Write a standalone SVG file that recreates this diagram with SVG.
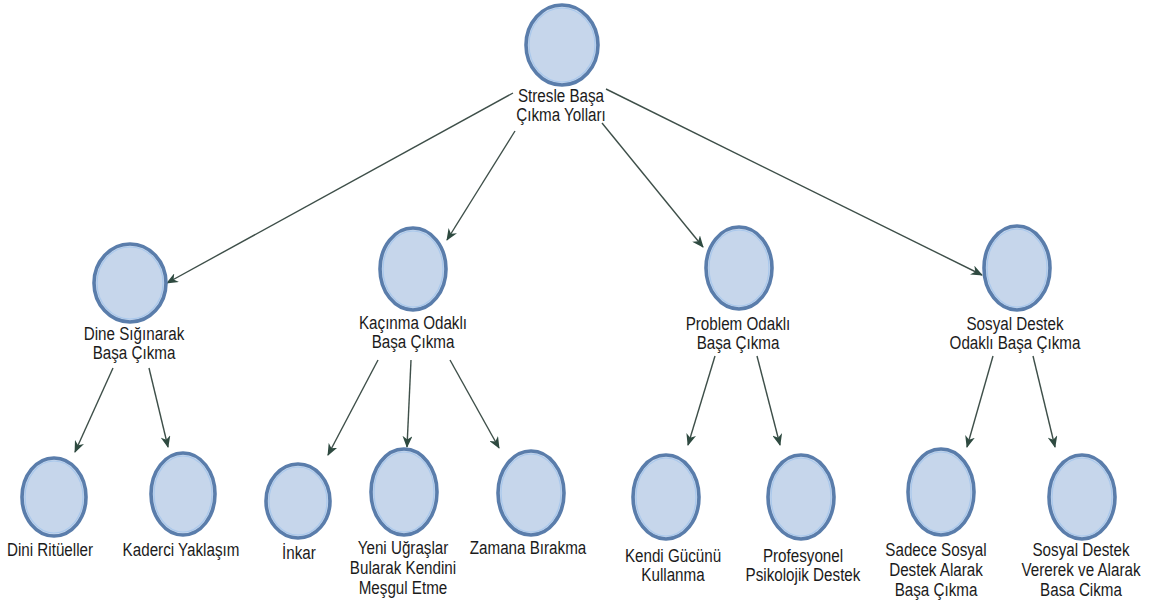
<svg xmlns="http://www.w3.org/2000/svg" width="1152" height="611" viewBox="0 0 1152 611">
  <style>
    .node-outer { fill: #c6d6eb; stroke: #5a7dab; stroke-width: 3.6; }
    .node-inner { fill: none; stroke: #a9c8ec; stroke-width: 1.2; }
    .label { font-family: "Liberation Sans", Arial, sans-serif; font-size: 19px; fill: #1b1b1b; text-anchor: middle; }
    .edge { stroke: #3e4f49; stroke-width: 1.4; fill: none; marker-end: url(#arrow); }
  </style>
  <defs>
    <marker id="arrow" viewBox="0 0 12 10" refX="11" refY="5" markerWidth="12" markerHeight="10" markerUnits="userSpaceOnUse" orient="auto">
      <path d="M0,0 L12,5 L0,10 L3.5,5 z" fill="#2e4a40"/>
    </marker>
  </defs>
  <rect width="1152" height="611" fill="#ffffff"/>

  <!-- connectors -->
  <g id="connectors">
    <line class="edge" x1="513" y1="93" x2="167" y2="283"/>
    <line class="edge" x1="515" y1="131" x2="447" y2="240"/>
    <line class="edge" x1="602" y1="123" x2="703" y2="247"/>
    <line class="edge" x1="606" y1="89" x2="982" y2="275"/>

    <line class="edge" x1="113" y1="368" x2="75" y2="452"/>
    <line class="edge" x1="149" y1="368" x2="168" y2="447"/>

    <line class="edge" x1="378" y1="360" x2="328" y2="455"/>
    <line class="edge" x1="411" y1="360" x2="407" y2="447"/>
    <line class="edge" x1="450" y1="360" x2="499" y2="448"/>

    <line class="edge" x1="715" y1="356" x2="688" y2="445"/>
    <line class="edge" x1="757" y1="356" x2="780" y2="445"/>

    <line class="edge" x1="993" y1="356" x2="967" y2="447"/>
    <line class="edge" x1="1033" y1="356" x2="1055" y2="447"/>
  </g>

  <!-- root -->
  <g id="node-root">
    <ellipse class="node-outer" cx="562" cy="45" rx="36" ry="40"/>
    <ellipse class="node-inner" cx="562" cy="45" rx="33" ry="37"/>
    <text class="label" transform="translate(561 101.5) scale(0.8 1)"><tspan x="0">Stresle Başa</tspan><tspan x="0" dy="20">Çıkma Yolları</tspan></text>
  </g>

  <!-- second level -->
  <g id="node-dine">
    <ellipse class="node-outer" cx="130" cy="283" rx="36" ry="39"/>
    <ellipse class="node-inner" cx="130" cy="283" rx="33" ry="36"/>
    <text class="label" transform="translate(134 339.5) scale(0.8 1)"><tspan x="0">Dine Sığınarak</tspan><tspan x="0" dy="20">Başa Çıkma</tspan></text>
  </g>
  <g id="node-kacinma">
    <ellipse class="node-outer" cx="413" cy="269" rx="33" ry="41"/>
    <ellipse class="node-inner" cx="413" cy="269" rx="30" ry="38"/>
    <text class="label" transform="translate(413 328.5) scale(0.8 1)"><tspan x="0">Kaçınma Odaklı</tspan><tspan x="0" dy="20">Başa Çıkma</tspan></text>
  </g>
  <g id="node-problem">
    <ellipse class="node-outer" cx="739" cy="268" rx="33" ry="41"/>
    <ellipse class="node-inner" cx="739" cy="268" rx="30" ry="38"/>
    <text class="label" transform="translate(738 329.5) scale(0.8 1)"><tspan x="0">Problem Odaklı</tspan><tspan x="0" dy="20">Başa Çıkma</tspan></text>
  </g>
  <g id="node-sosyal">
    <ellipse class="node-outer" cx="1017" cy="268" rx="33" ry="42"/>
    <ellipse class="node-inner" cx="1017" cy="268" rx="30" ry="39"/>
    <text class="label" transform="translate(1015 329.5) scale(0.8 1)"><tspan x="0">Sosyal Destek</tspan><tspan x="0" dy="20">Odaklı Başa Çıkma</tspan></text>
  </g>

  <!-- leaves -->
  <g id="node-dini">
    <ellipse class="node-outer" cx="54" cy="497" rx="32" ry="39"/>
    <ellipse class="node-inner" cx="54" cy="497" rx="29" ry="36"/>
    <text class="label" transform="translate(50 555.5) scale(0.8 1)"><tspan x="0">Dini Ritüeller</tspan></text>
  </g>
  <g id="node-kaderci">
    <ellipse class="node-outer" cx="183" cy="494" rx="32" ry="41"/>
    <ellipse class="node-inner" cx="183" cy="494" rx="29" ry="38"/>
    <text class="label" transform="translate(181 555.5) scale(0.8 1)"><tspan x="0">Kaderci Yaklaşım</tspan></text>
  </g>
  <g id="node-inkar">
    <ellipse class="node-outer" cx="298" cy="501" rx="32" ry="37"/>
    <ellipse class="node-inner" cx="298" cy="501" rx="29" ry="34"/>
    <text class="label" transform="translate(299 558.5) scale(0.8 1)"><tspan x="0">İnkar</tspan></text>
  </g>
  <g id="node-yeni">
    <ellipse class="node-outer" cx="404" cy="492" rx="33" ry="43"/>
    <ellipse class="node-inner" cx="404" cy="492" rx="30" ry="40"/>
    <text class="label" transform="translate(403 553.5) scale(0.8 1)"><tspan x="0">Yeni Uğraşlar</tspan><tspan x="0" dy="20.5">Bularak Kendini</tspan><tspan x="0" dy="20.5">Meşgul Etme</tspan></text>
  </g>
  <g id="node-zamana">
    <ellipse class="node-outer" cx="531" cy="493" rx="33" ry="42"/>
    <ellipse class="node-inner" cx="531" cy="493" rx="30" ry="39"/>
    <text class="label" transform="translate(528 553.5) scale(0.8 1)"><tspan x="0">Zamana Bırakma</tspan></text>
  </g>
  <g id="node-kendi">
    <ellipse class="node-outer" cx="666" cy="497" rx="33" ry="42"/>
    <ellipse class="node-inner" cx="666" cy="497" rx="30" ry="39"/>
    <text class="label" transform="translate(673 561.5) scale(0.8 1)"><tspan x="0">Kendi Gücünü</tspan><tspan x="0" dy="20">Kullanma</tspan></text>
  </g>
  <g id="node-profesyonel">
    <ellipse class="node-outer" cx="801" cy="497" rx="33" ry="42"/>
    <ellipse class="node-inner" cx="801" cy="497" rx="30" ry="39"/>
    <text class="label" transform="translate(803 561.5) scale(0.8 1)"><tspan x="0">Profesyonel</tspan><tspan x="0" dy="20">Psikolojik Destek</tspan></text>
  </g>
  <g id="node-sadece">
    <ellipse class="node-outer" cx="941" cy="492" rx="33" ry="43"/>
    <ellipse class="node-inner" cx="941" cy="492" rx="30" ry="40"/>
    <text class="label" transform="translate(936 555.5) scale(0.8 1)"><tspan x="0">Sadece Sosyal</tspan><tspan x="0" dy="20.5">Destek Alarak</tspan><tspan x="0" dy="20.5">Başa Çıkma</tspan></text>
  </g>
  <g id="node-vererek">
    <ellipse class="node-outer" cx="1082" cy="497" rx="33" ry="42"/>
    <ellipse class="node-inner" cx="1082" cy="497" rx="30" ry="39"/>
    <text class="label" transform="translate(1081 555.5) scale(0.8 1)"><tspan x="0">Sosyal Destek</tspan><tspan x="0" dy="20.5">Vererek ve Alarak</tspan><tspan x="0" dy="20.5">Basa Cikma</tspan></text>
  </g>
</svg>
